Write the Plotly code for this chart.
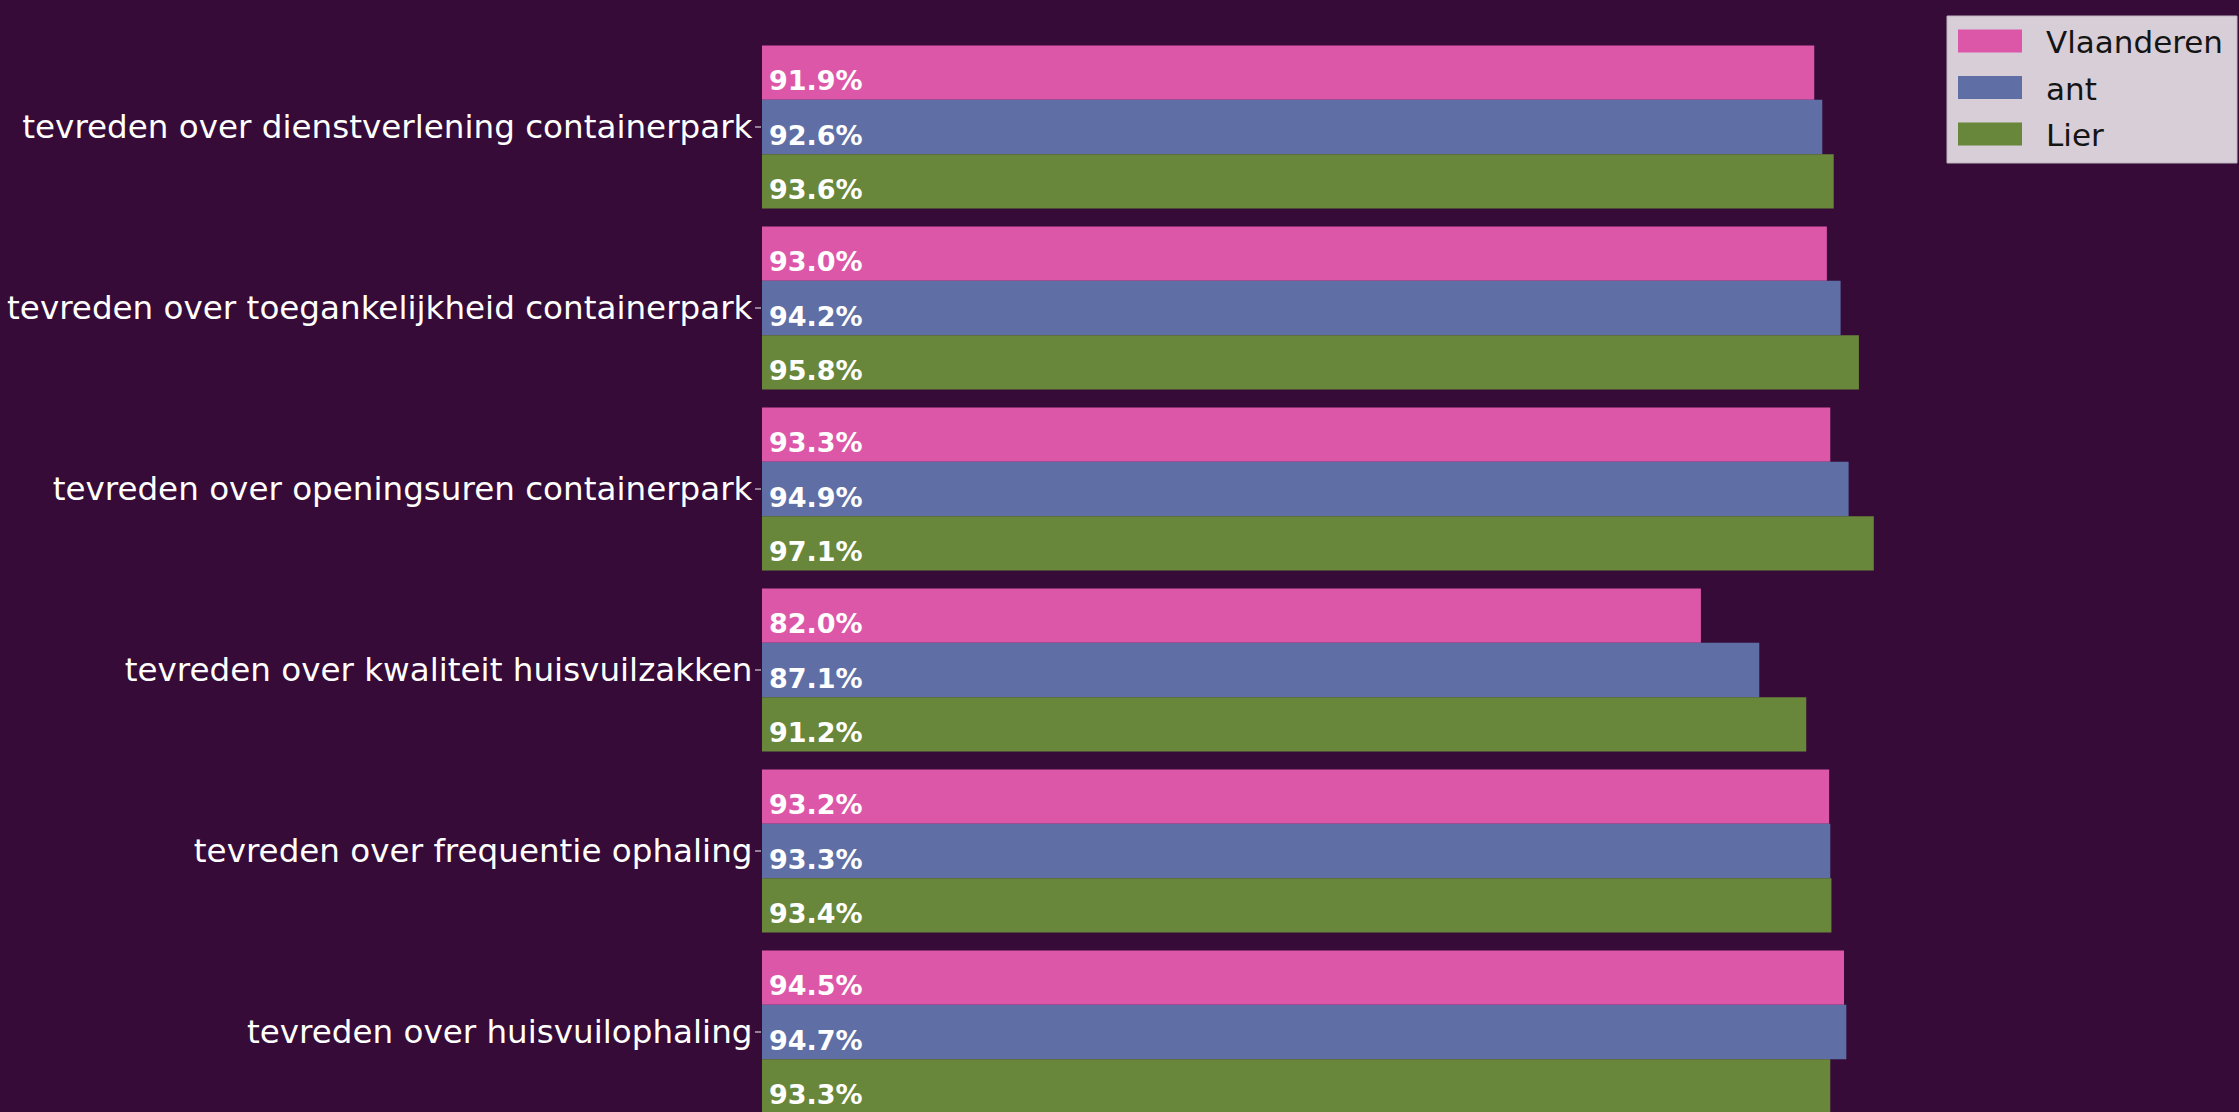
import plotly.graph_objects as go

# Survey results: share of satisfied residents per topic
categories = [
    "tevreden over dienstverlening containerpark",
    "tevreden over toegankelijkheid containerpark",
    "tevreden over openingsuren containerpark",
    "tevreden over kwaliteit huisvuilzakken",
    "tevreden over frequentie ophaling",
    "tevreden over huisvuilophaling",
]
series_names = ["Vlaanderen", "ant", "Lier"]
vlaanderen = [91.9, 93.0, 93.3, 82.0, 93.2, 94.5]
ant = [92.6, 94.2, 94.9, 87.1, 93.3, 94.7]
lier = [93.6, 95.8, 97.1, 91.2, 93.4, 93.3]

series_values = [vlaanderen, ant, lier]
colors = ["#dd57a9", "#5f6fa6", "#69873a"]
BG = "#360b38"

W, H = 2239, 1112
ML, MR, MT, MB = 762, 310, 36, 0
PW, PH = W - ML - MR, H - MT - MB
BAR = 0.3          # width of a single bar in category units
GROUP_PX = 181     # pixel distance between categories

fig = go.Figure()
for name, vals, col in zip(series_names, series_values, colors):
    fig.add_trace(go.Bar(
        y=categories, x=vals, name=name, orientation="h",
        marker=dict(color=col, line=dict(width=0)),
        showlegend=False, hoverinfo="x+y",
    ))

# value labels at the start of each bar
annotations = []
for k, vals in enumerate(series_values):
    for i, v in enumerate(vals):
        annotations.append(dict(
            x=0, y=i + (k - 1) * BAR, xref="x", yref="y",
            text=f"<b>{v:.1f}%</b>", showarrow=False,
            xanchor="left", yanchor="middle", xshift=5, yshift=-8,
            font=dict(family="DejaVu Sans", size=27, color="white"),
        ))

# legend box in the top-right corner
def px_x(px):
    return (px - ML) / PW

def px_y(py):
    return 1 - (py - MT) / PH

shapes = [dict(
    type="rect", xref="paper", yref="paper",
    x0=px_x(1947), x1=px_x(2237), y0=px_y(163), y1=px_y(16),
    fillcolor="rgb(215,206,215)", line=dict(color="rgba(190,180,190,1)", width=1),
    layer="above",
)]
row_centers = [41, 87.5, 134]
for name, col, cy in zip(series_names, colors, row_centers):
    shapes.append(dict(
        type="rect", xref="paper", yref="paper",
        x0=px_x(1958), x1=px_x(2022), y0=px_y(cy + 11.5), y1=px_y(cy - 11.5),
        fillcolor=col, line=dict(width=0), layer="above",
    ))
    annotations.append(dict(
        x=px_x(2044), y=px_y(cy + 1), xref="paper", yref="paper",
        text=name, showarrow=False, xanchor="left", yanchor="middle",
        font=dict(family="DejaVu Sans", size=31, color="#141414"),
    ))

fig.update_layout(
    width=W, height=H,
    margin=dict(l=ML, r=MR, t=MT, b=MB, autoexpand=False),
    paper_bgcolor=BG, plot_bgcolor=BG,
    barmode="group", bargap=0.1, bargroupgap=0,
    annotations=annotations, shapes=shapes,
    font=dict(family="DejaVu Sans", color="white"),
)
fig.update_xaxes(
    range=[0, PW / 11.45], showgrid=False, zeroline=False,
    showticklabels=False, showline=False, ticks="",
)
fig.update_yaxes(
    type="category", categoryorder="array", categoryarray=categories,
    range=[(H - MB - 127) / GROUP_PX, (MT - 127) / GROUP_PX],
    showgrid=False, zeroline=False, showline=False,
    ticks="outside", ticklen=6, tickwidth=1.5, tickcolor="rgba(190,180,190,0.7)",
    ticklabelstandoff=-4,
    tickfont=dict(family="DejaVu Sans", size=32.6, color="white"),
    automargin=False,
)

fig.write_html("out.html")
